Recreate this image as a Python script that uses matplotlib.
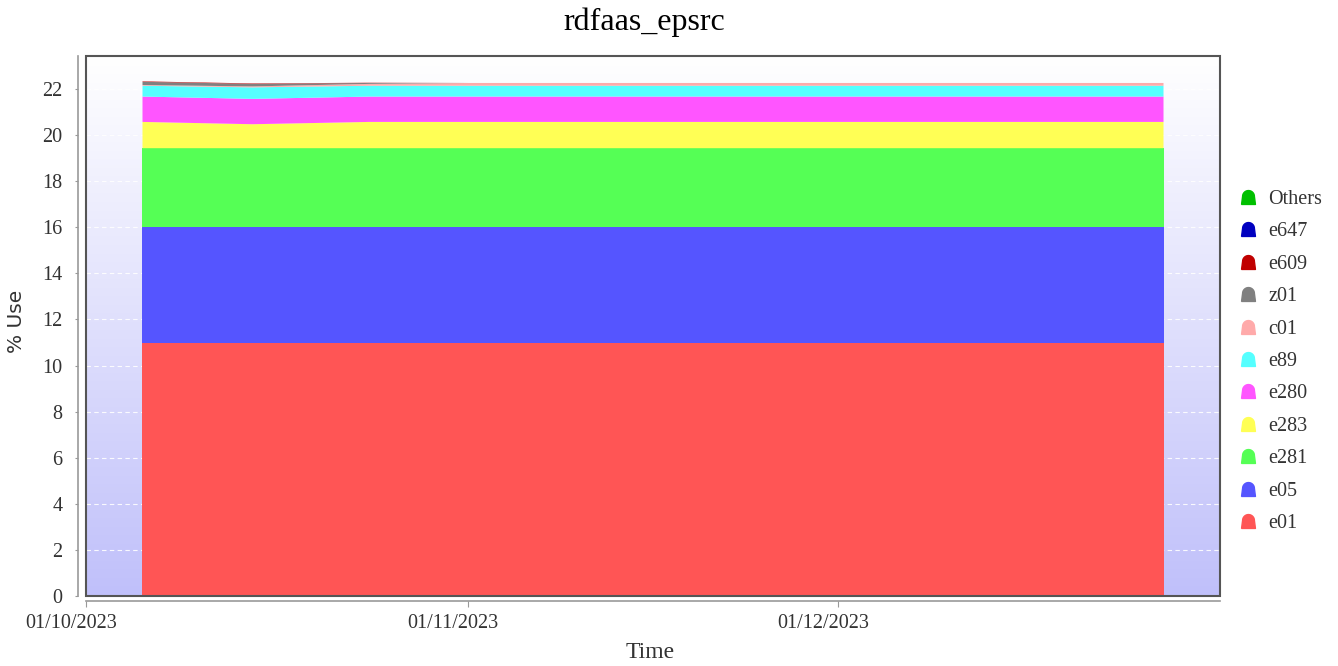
import numpy as np
import pandas as pd
import matplotlib
matplotlib.use("Agg")
import matplotlib.pyplot as plt
import matplotlib.dates as mdates
import matplotlib.transforms as mtransforms
from matplotlib.path import Path
from matplotlib.lines import Line2D
from matplotlib.patches import Rectangle

# sample times (irregular snapshots)
dates = pd.to_datetime(["2023-10-05 14:00", "2023-10-14 12:00", "2023-10-24 00:00",
                        "2023-11-01 00:00", "2023-12-27 10:00"])

# % use per project, bottom of stack first
names = ["e01", "e05", "e281", "e283", "e280", "e89", "c01", "z01", "e609", "e647", "Others"]
e01 = [10.98, 10.98, 10.98, 10.98, 10.98]
e05 = [5.03, 5.03, 5.03, 5.03, 5.03]
e281 = [3.42, 3.42, 3.42, 3.42, 3.42]
e283 = [1.14, 1.04, 1.14, 1.14, 1.14]
e280 = [1.10, 1.10, 1.10, 1.10, 1.10]
e89 = [0.47, 0.50, 0.47, 0.47, 0.47]
c01 = [0.03, 0.04, 0.08, 0.12, 0.12]
z01 = [0.14, 0.11, 0.04, 0.0, 0.0]
e609 = [0.02, 0.02, 0.01, 0.0, 0.0]
e647 = [0.0, 0.0, 0.0, 0.0, 0.0]
others = [0.0, 0.0, 0.0, 0.0, 0.0]

tick_dates = pd.to_datetime(["2023-10-01", "2023-11-01", "2023-12-01"])

colors = ["#ff5555", "#5555ff", "#55ff55", "#ffff55", "#ff55ff", "#55ffff",
          "#ffaaaa", "#808080", "#c00000", "#0000c0", "#00c000"]

serif = "Liberation Serif"
txt = "#333333"

fig = plt.figure(figsize=(13.38, 6.66), dpi=100)
ax = fig.add_axes([86/1338, 70/666, 1134/1338, 540/666])

# gradient background white -> lavender
grad = np.linspace(0, 1, 256).reshape(-1, 1)
cmap = matplotlib.colors.LinearSegmentedColormap.from_list("bg", ["#ffffff", "#c0c0fa"])
ax.imshow(grad, aspect="auto", cmap=cmap, extent=[0, 1, 0, 1], origin="upper",
          transform=ax.transAxes, zorder=0)

ax.stackplot(dates, e01, e05, e281, e283, e280, e89, c01, z01, e609, e647, others,
             colors=colors, labels=names, zorder=2, linewidth=0.4)

ax.set_xlim(pd.Timestamp("2023-10-01"), pd.Timestamp("2024-01-01"))
ax.set_ylim(0, 23.43)
ax.set_yticks(range(0, 23, 2))
ax.yaxis.grid(True, color="white", linestyle=(0, (4, 3)), linewidth=0.8, alpha=0.9, zorder=1)
ax.set_axisbelow(True)

ax.set_xticks(tick_dates)
ax.xaxis.set_major_formatter(mdates.DateFormatter("%d/%m/%Y"))

# box around plot area, axis lines offset outward
ax.add_patch(Rectangle((0, 0), 1, 1, transform=ax.transAxes, fill=False,
                       edgecolor="#555555", linewidth=1.5, zorder=5, clip_on=False))
for s in ["top", "right"]:
    ax.spines[s].set_visible(False)
ax.spines["left"].set_position(("outward", 5.8))
ax.spines["bottom"].set_position(("outward", 3.6))
for s in ["left", "bottom"]:
    ax.spines[s].set_color("#999999")
    ax.spines[s].set_linewidth(1.2)

ax.tick_params(axis="y", length=2.5, pad=8.5, color="#999999", labelcolor=txt, labelsize=14.5)
ax.tick_params(axis="x", length=4, pad=5, color="#999999", labelcolor=txt, labelsize=14.5)
for lab in ax.get_xticklabels() + ax.get_yticklabels():
    lab.set_fontfamily(serif)
offset = mtransforms.ScaledTranslation(-15/100, 0, fig.dpi_scale_trans)
for lab in ax.get_xticklabels():
    lab.set_transform(lab.get_transform() + offset)

ax.set_ylabel("% Use", fontsize=14.5, color=txt, family="DejaVu Sans", va="center")
ax.yaxis.set_label_coords((17 - 86)/1134, (596 - 321)/540)
ax.set_xlabel("Time", fontsize=17, color=txt, family=serif, va="center")
ax.xaxis.set_label_coords((650 - 86)/1134, (596 - 653)/540)

fig.text(644/1338, 1 - 22/666, "rdfaas_epsrc", ha="center", va="center",
         fontsize=23, family=serif, color="black")

# legend with dome-shaped markers, top entry = top of stack
th = np.linspace(0, np.pi, 24)
dome = np.vstack([[[-1.0, -1.0], [1.0, -1.0]],
                  np.column_stack([np.cos(th) * 0.85, 0.15 + np.sin(th) * 0.85]),
                  [[-1.0, -1.0]]])
dome_path = Path(dome)
handles = [Line2D([], [], linestyle="none", marker=dome_path, markersize=10,
                  markerfacecolor=c, markeredgecolor=c) for c in colors]
leg = fig.legend(handles[::-1], names[::-1], loc="center left",
                 bbox_to_anchor=(1238/1338, 1 - 361.5/666), frameon=False,
                 borderpad=0, borderaxespad=0, handlelength=1.0, handletextpad=0.5,
                 labelspacing=0.66, prop={"family": serif, "size": 14.5})
for t in leg.get_texts():
    t.set_color(txt)

fig.savefig("out.png", dpi=100)
